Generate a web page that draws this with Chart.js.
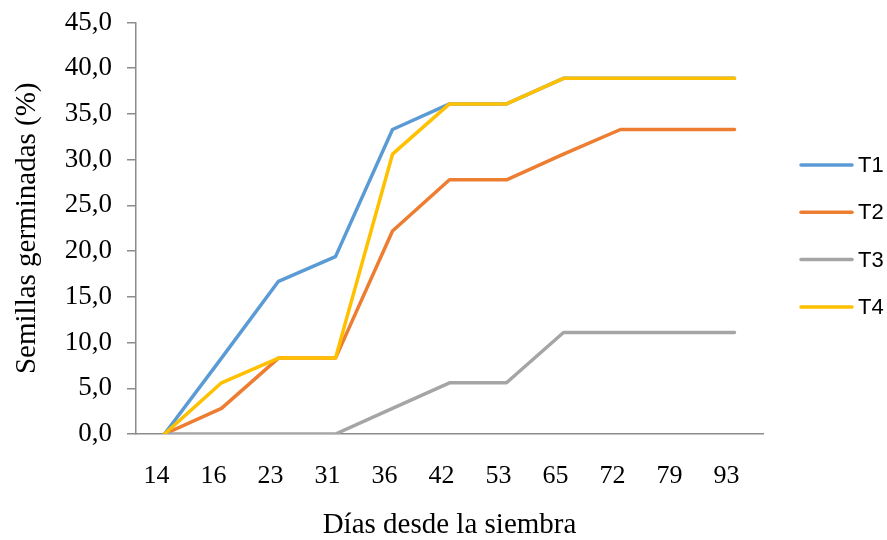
<!DOCTYPE html>
<html>
<head>
<meta charset="utf-8">
<script src="https://cdn.jsdelivr.net/npm/chart.js@4"></script>
<style>
  html, body { margin: 0; padding: 0; background: #fff; }
  #wrap { width: 887px; height: 540px; }
</style>
</head>
<body>
<div id="wrap"><canvas id="germinacion" width="887" height="540"></canvas></div>
<script>
const dias = ['14', '16', '23', '31', '36', '42', '53', '65', '72', '79', '93'];
const t1 = [0, 8.3, 16.7, 19.4, 33.3, 36.1, 36.1, 38.9, 38.9, 38.9, 38.9];
const t2 = [0, 2.8, 8.3, 8.3, 22.2, 27.8, 27.8, 30.6, 33.3, 33.3, 33.3];
const t3 = [0, 0, 0, 0, 2.8, 5.6, 5.6, 11.1, 11.1, 11.1, 11.1];
const t4 = [0, 5.6, 8.3, 8.3, 30.6, 36.1, 36.1, 38.9, 38.9, 38.9, 38.9];

const serif = 'Liberation Serif, Times New Roman, serif';
const axisGray = '#8c8c8c';

// legend drawn at the right, line sample + label
const sideLegend = {
  id: 'sideLegend',
  afterDraw(chart) {
    const c = chart.ctx;
    c.save();
    c.font = '22px Liberation Sans, Arial, sans-serif';
    c.textBaseline = 'middle';
    c.fillStyle = '#000';
    chart.data.datasets.forEach((ds, i) => {
      const y = 165 + i * 47.3;
      c.strokeStyle = ds.borderColor;
      c.lineWidth = 3.5;
      c.lineCap = 'round';
      c.beginPath();
      c.moveTo(801, y);
      c.lineTo(852, y);
      c.stroke();
      c.fillText(ds.label, 858, y + 1);
    });
    c.restore();
  }
};

const ctx = document.getElementById('germinacion');

// higher order is painted first, so T4 ends up on top
new Chart(ctx, {
  type: 'line',
  data: {
    labels: dias,
    datasets: [
      { label: 'T1', data: t1, borderColor: '#5B9BD5', order: 4 },
      { label: 'T2', data: t2, borderColor: '#ED7D31', order: 3 },
      { label: 'T3', data: t3, borderColor: '#A5A5A5', order: 2 },
      { label: 'T4', data: t4, borderColor: '#FFC000', order: 1 }
    ]
  },
  options: {
    responsive: false,
    animation: false,
    layout: { padding: { top: 22.5, right: 124, bottom: 0, left: 0 } },
    elements: {
      line: { borderWidth: 3.5, tension: 0, borderJoinStyle: 'round', borderCapStyle: 'round' },
      point: { radius: 0, hoverRadius: 0 }
    },
    plugins: {
      legend: { display: false },
      tooltip: { enabled: false }
    },
    scales: {
      x: {
        offset: true,
        grid: { display: false, drawTicks: false },
        border: { display: true, color: axisGray, width: 1.5 },
        ticks: { color: '#000', font: { family: serif, size: 26 }, padding: 27, labelOffset: -8, maxRotation: 0 },
        title: { display: true, text: 'Días desde la siembra', color: '#000', font: { family: serif, size: 29 }, padding: { top: 0, bottom: -3 } },
        afterFit(scale) {
          scale.height = 106;
          scale.paddingLeft = 0;
          scale.paddingRight = 0;
        }
      },
      y: {
        min: 0,
        max: 45,
        grid: { drawOnChartArea: false, drawTicks: true, tickLength: 9, color: axisGray, lineWidth: 1.5 },
        border: { display: true, color: axisGray, width: 1.5 },
        ticks: {
          stepSize: 5,
          color: '#000',
          font: { family: serif, size: 27 },
          padding: 15,
          callback: v => v.toFixed(1).replace('.', ',')
        },
        title: { display: true, text: 'Semillas germinadas (%)', color: '#000', font: { family: serif, size: 29 }, padding: { top: 10, bottom: 0 } },
        afterFit(scale) {
          scale.width = 136;
          scale.paddingTop = 0;
          scale.paddingBottom = 0;
        }
      }
    }
  },
  plugins: [sideLegend]
});
</script>
</body>
</html>
